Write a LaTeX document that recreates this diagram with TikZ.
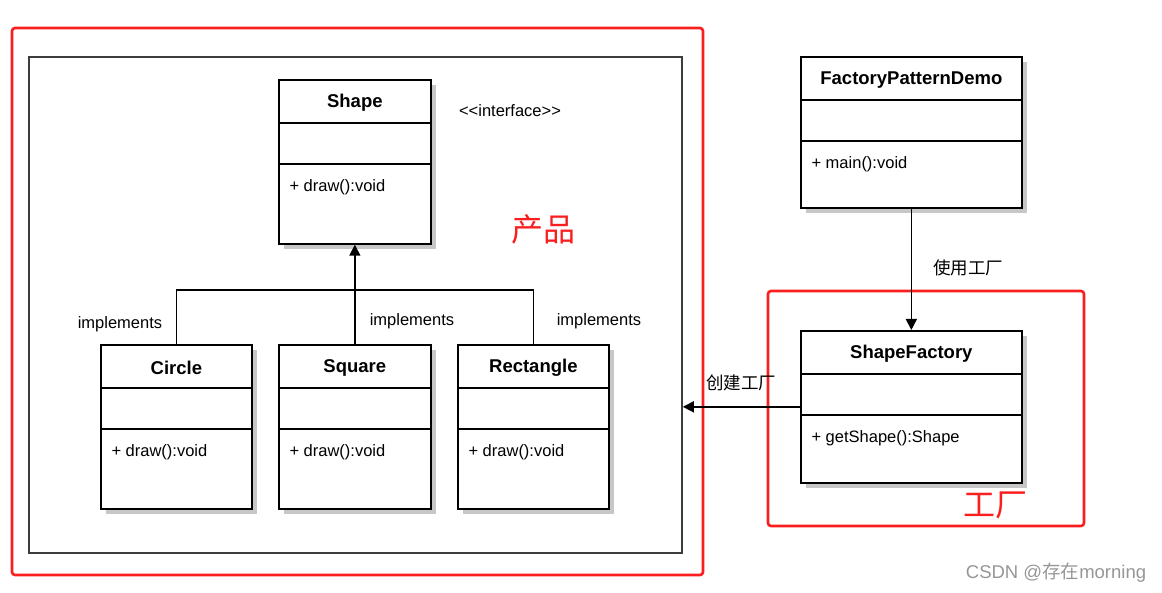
\documentclass[tikz,border=0pt]{standalone}
\usepackage{fontspec}
\setmainfont{Liberation Sans}
\newfontfamily\cjk{Noto Sans CJK SC}
\usepackage{tikz}
\usetikzlibrary{arrows.meta,positioning,calc,shadows}
\definecolor{markred}{RGB}{250,30,30}
\definecolor{framegray}{RGB}{60,60,60}
\definecolor{marktext}{RGB}{150,150,150}

\tikzset{
  classbox/.style={draw,line width=1.7pt,fill=white,inner sep=0pt,
    drop shadow={shadow xshift=5pt,shadow yshift=-5pt,fill=black!22,opacity=1}},
  classline/.style={line width=1.7pt},
  groupbox/.style={draw=markred,line width=2.6pt,rounded corners=3pt},
  link/.style={line width=1.5pt},
}
% name, north west corner, width, height, title, operation
\newcommand\umlclass[6]{%
  \node[classbox,minimum width=#3pt,minimum height=#4pt,anchor=north west] (#1) at #2 {};
  \node[font=\fontsize{18.5}{21}\selectfont\bfseries] (#1-title) at ($(#1.north)+(0,24)$) {#5};
  \draw[classline] ($(#1.north west)+(0,44)$) -- ($(#1.north east)+(0,44)$);
  \draw[classline] ($(#1.north west)+(0,85)$) -- ($(#1.north east)+(0,85)$);
  \node[anchor=west] (#1-op) at ($(#1.north west)+(8,108)$) {#6};
}

\begin{document}
\begin{tikzpicture}[x=1pt,y=-1pt,>={Triangle[length=11pt,width=11pt]},
  font=\fontsize{16.5}{19}\selectfont]
\useasboundingbox (0,0) rectangle (1162,593);

% products side
\draw[groupbox] (12,28) rectangle (703,575);
\node[draw=framegray,line width=1.8pt,inner sep=0pt,minimum width=653pt,minimum height=496pt,
  anchor=north west] (products) at (28,56) {};

\umlclass{shape}{(278,79)}{152}{164}{Shape}{+ draw():void}
\node (iface) at (510,111) {<{}<interface>{}>};
\node[text=markred,font=\cjk\fontsize{32}{36}\selectfont] (prodlabel) at (543,229) {产品};

\umlclass{circle}{(100,344)}{151}{164}{Circle}{+ draw():void}
\umlclass{square}{(278,344)}{152}{164}{Square}{+ draw():void}
\umlclass{rectangle}{(457,344)}{151}{164}{Rectangle}{+ draw():void}

\coordinate (bus) at (354,290);
\draw[link,->] (square.north) -- (shape.south);
\draw[line width=1.1pt] (circle.north) |- (bus) -| (rectangle.north);
\node (impl1) at (120,324) {implements};
\node (impl2) at (412,321) {implements};
\node (impl3) at (599,321) {implements};

% factory side
\umlclass{demo}{(800,56)}{221}{151}{FactoryPatternDemo}{+ main():void}
\draw[groupbox] (768,291) rectangle (1084,526);
\umlclass{factory}{(800,330)}{221}{152}{ShapeFactory}{+ getShape():Shape}
\node[text=markred,font=\cjk\fontsize{32}{36}\selectfont] (factlabel) at (995,505) {工厂};

\draw[link,->] (demo.south) -- (factory.north);
\node[font=\cjk\fontsize{17.5}{20}\selectfont] (uselabel) at (968,268) {使用工厂};
\draw[link,->] (factory.west) -- (factory.west -| products.east);
\node[font=\cjk\fontsize{17.5}{20}\selectfont] (makelabel) at (741,383) {创建工厂};

\node[text=marktext,font=\fontsize{18.5}{21}\selectfont] (mark) at (1056,573) {CSDN @{\cjk 存在}morning};
\end{tikzpicture}
\end{document}
